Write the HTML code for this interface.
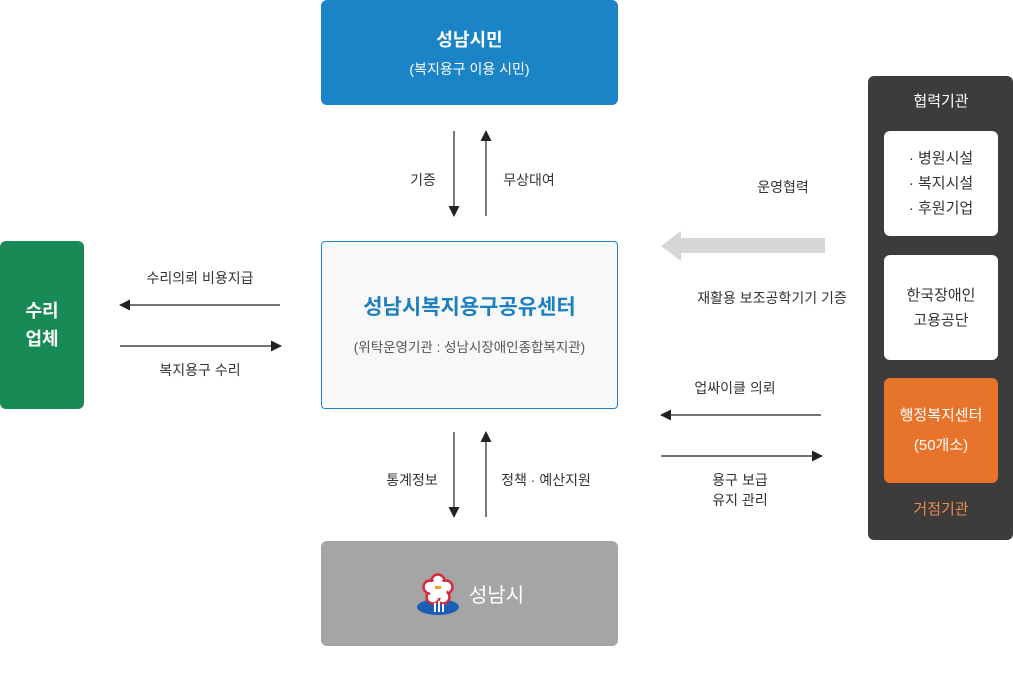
<!DOCTYPE html>
<html><head><meta charset="utf-8"><style>
*{margin:0;padding:0;box-sizing:border-box}
body{width:1013px;height:698px;background:#fff;position:relative;overflow:hidden;font-family:"Liberation Sans","Noto Sans CJK KR",sans-serif;color:#333}
.a{position:absolute}
.box{position:absolute;display:flex;flex-direction:column;align-items:center;justify-content:center;text-align:center}
.l{position:absolute;font-size:14px;color:#333;white-space:nowrap;transform:translateX(-50%);line-height:20px;text-align:center}
</style></head><body>
<div class="box" style="left:321px;top:0;width:297px;height:105px;background:#1b84c6;border-radius:6px;color:#fff">
<div style="font-size:18px;font-weight:bold;line-height:26px">성남시민</div>
<div style="font-size:14px;margin-top:6px">(복지용구 이용 시민)</div></div>

<div class="box" style="left:321px;top:241px;width:297px;height:168px;background:#f8f8f8;border:1px solid #1b84c6;border-radius:4px">
<div style="font-size:21px;font-weight:bold;color:#1b7fc0;line-height:28px">성남시복지용구공유센터</div>
<div style="font-size:13.5px;color:#555;margin-top:14px">(위탁운영기관 : 성남시장애인종합복지관)</div></div>

<div class="box" style="left:0;top:241px;width:84px;height:168px;background:#178a55;border-radius:6px;color:#fff;font-size:18px;font-weight:bold;line-height:28px">수리<br>업체</div>

<div class="box" style="left:321px;top:541px;width:297px;height:105px;background:#a5a5a5;border-radius:6px;color:#fff;flex-direction:row">
<svg width="46" height="44" viewBox="0 0 46 44" style="margin-right:8px">
<ellipse cx="23" cy="35" rx="21" ry="8" fill="#1a5fb4"/>
<g transform="translate(23,17)">
<g fill="#fff" stroke="#d8283a" stroke-width="2.5"><circle cx="0" cy="-8" r="6.5"/><circle cx="8" cy="-2" r="6.5"/><circle cx="5" cy="8" r="6.5"/><circle cx="-5" cy="8" r="6.5"/><circle cx="-8" cy="-2" r="6.5"/></g>
<circle r="9" fill="#fff"/>
<rect x="-3" y="-3" width="6" height="3" fill="#f0a020"/></g>
<rect x="19" y="31" width="2" height="9" fill="#fff"/><rect x="23" y="29" width="2" height="11" fill="#fff"/><rect x="27" y="32" width="2" height="8" fill="#fff"/>
</svg>
<span style="font-size:20px">성남시</span></div>

<div class="a" style="left:868px;top:76px;width:145px;height:464px;background:#3c3c3c;border-radius:6px"></div>
<div class="l" style="left:941px;top:92px;color:#fff;font-size:15px">협력기관</div>
<div class="box" style="left:884px;top:131px;width:114px;height:105px;background:#fff;border-radius:6px;font-size:15px;line-height:25px;color:#333">· 병원시설<br>· 복지시설<br>· 후원기업</div>
<div class="box" style="left:884px;top:255px;width:114px;height:105px;background:#fff;border-radius:6px;font-size:15px;line-height:25px;color:#333">한국장애인<br>고용공단</div>
<div class="box" style="left:884px;top:378px;width:114px;height:105px;background:#e8732b;border-radius:6px;font-size:15px;line-height:30px;color:#fff">행정복지센터<br>(50개소)</div>
<div class="l" style="left:941px;top:500px;color:#f08a4b;font-size:15px">거점기관</div>

<svg class="a" style="left:0;top:0" width="1013" height="698">
<defs>
<marker id="h" markerWidth="12" markerHeight="12" refX="10" refY="5.5" orient="auto" markerUnits="userSpaceOnUse"><path d="M0,0L11,5.5L0,11z" fill="#222"/></marker>
</defs>
<g stroke="#222" stroke-width="1.2" fill="none">
<line x1="454" y1="131" x2="454" y2="216" marker-end="url(#h)"/>
<line x1="486" y1="216" x2="486" y2="131" marker-end="url(#h)"/>
<line x1="454" y1="432" x2="454" y2="517" marker-end="url(#h)"/>
<line x1="486" y1="517" x2="486" y2="432" marker-end="url(#h)"/>
<line x1="280" y1="305" x2="120" y2="305" marker-end="url(#h)"/>
<line x1="120" y1="346" x2="281" y2="346" marker-end="url(#h)"/>
<line x1="821" y1="415" x2="661" y2="415" marker-end="url(#h)"/>
<line x1="661" y1="456" x2="822" y2="456" marker-end="url(#h)"/>
</g>
<path d="M825,238L681,238L681,231L661,246L681,261L681,253L825,253z" fill="#d6d6d6"/>
</svg>

<div class="l" style="left:423px;top:170px">기증</div>
<div class="l" style="left:529px;top:170px">무상대여</div>
<div class="l" style="left:412px;top:470px">통계정보</div>
<div class="l" style="left:546px;top:470px">정책 · 예산지원</div>
<div class="l" style="left:200px;top:268px">수리의뢰 비용지급</div>
<div class="l" style="left:200px;top:360px">복지용구 수리</div>
<div class="l" style="left:783px;top:177px">운영협력</div>
<div class="l" style="left:772px;top:288px">재활용 보조공학기기 기증</div>
<div class="l" style="left:735px;top:378px">업싸이클 의뢰</div>
<div class="l" style="left:740px;top:470px">용구 보급<br>유지 관리</div>
</body></html>
